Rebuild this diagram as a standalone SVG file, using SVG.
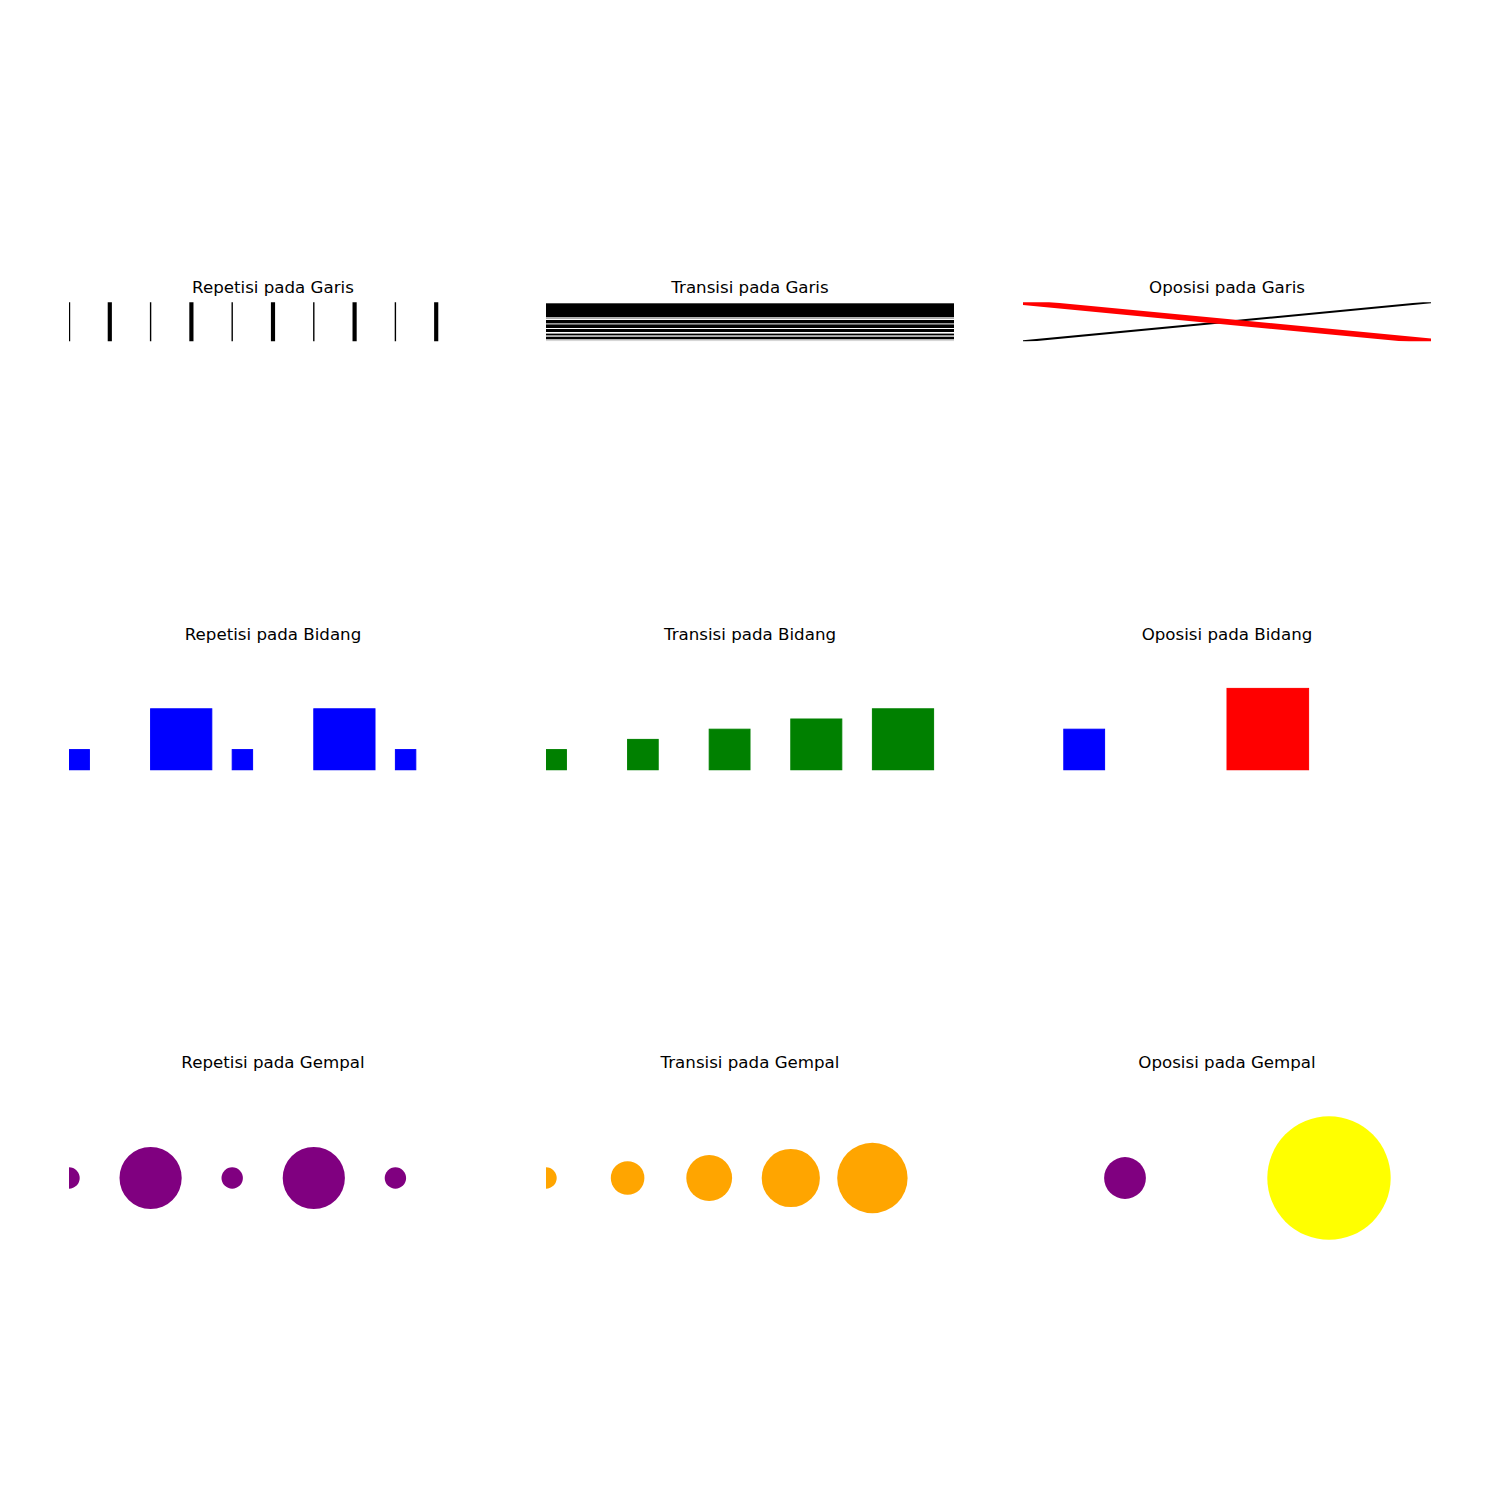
<svg xmlns="http://www.w3.org/2000/svg" width="1500" height="1500" viewBox="0 0 1500 1500">
<style>
.title{font-family:"DejaVu Sans","Liberation Sans",sans-serif;font-size:16.67px;fill:#000;text-anchor:middle}
.tk{stroke:#000;stroke-width:4.17}
.tn{stroke:#000;stroke-width:1.39}
.blue{fill:#0000ff;stroke:#0000ff;stroke-width:1}
.green{fill:#008000;stroke:#008000;stroke-width:1}
.red{fill:#ff0000;stroke:#ff0000;stroke-width:1}
.purple{fill:#800080}
.orange{fill:#ffa500}
.yellow{fill:#ffff00}
</style>
<defs>
<clipPath id="c1a"><rect x="69" y="302.3" width="408" height="39"/></clipPath>
<clipPath id="c1b"><rect x="546" y="302.3" width="408" height="39"/></clipPath>
<clipPath id="c1c"><rect x="1023" y="302.3" width="408" height="39"/></clipPath>
<clipPath id="c2a"><rect x="69" y="640" width="408" height="130.5"/></clipPath>
<clipPath id="c2b"><rect x="546" y="640" width="408" height="130.5"/></clipPath>
<clipPath id="c2c"><rect x="1023" y="640" width="408" height="130.5"/></clipPath>
<clipPath id="c3a"><rect x="69" y="1080" width="408" height="200"/></clipPath>
<clipPath id="c3b"><rect x="546" y="1080" width="408" height="200"/></clipPath>
<clipPath id="c3c"><rect x="1023" y="1080" width="408" height="200"/></clipPath>
</defs>
<rect width="1500" height="1500" fill="#fff"/>

<g id="repetisi-garis">
<text class="title" x="273" y="293">Repetisi pada Garis</text>
<g clip-path="url(#c1a)">
<line class="tn" x1="69.5" y1="302" x2="69.5" y2="342"/>
<line class="tk" x1="109.8" y1="302" x2="109.8" y2="342"/>
<line class="tn" x1="150.6" y1="302" x2="150.6" y2="342"/>
<line class="tk" x1="191.4" y1="302" x2="191.4" y2="342"/>
<line class="tn" x1="232.2" y1="302" x2="232.2" y2="342"/>
<line class="tk" x1="273" y1="302" x2="273" y2="342"/>
<line class="tn" x1="313.8" y1="302" x2="313.8" y2="342"/>
<line class="tk" x1="354.6" y1="302" x2="354.6" y2="342"/>
<line class="tn" x1="395.4" y1="302" x2="395.4" y2="342"/>
<line class="tk" x1="436.2" y1="302" x2="436.2" y2="342"/>
</g>
</g>

<g id="transisi-garis">
<text class="title" x="750" y="293">Transisi pada Garis</text>
<g clip-path="url(#c1b)">
<rect x="546" y="303.3" width="408" height="14" fill="#000"/>
<rect x="546" y="318" width="408" height="0.8" fill="#999"/>
<rect x="546" y="320" width="408" height="3.4" fill="#000"/>
<rect x="546" y="324.4" width="408" height="3.6" fill="#000"/>
<rect x="546" y="329" width="408" height="3" fill="#000"/>
<rect x="546" y="333.6" width="408" height="1.8" fill="#000"/>
<rect x="546" y="336.7" width="408" height="2.6" fill="#000"/>
<rect x="546" y="340.4" width="408" height="0.8" fill="#bbb"/>
</g>
</g>

<g id="oposisi-garis">
<text class="title" x="1227" y="293">Oposisi pada Garis</text>
<g clip-path="url(#c1c)">
<line x1="1023" y1="341.3" x2="1431" y2="302.3" stroke="#000" stroke-width="2.08"/>
<line x1="1023" y1="302.3" x2="1431" y2="341.3" stroke="#ff0000" stroke-width="5.56"/>
</g>
</g>

<g id="repetisi-bidang">
<text class="title" x="273" y="640">Repetisi pada Bidang</text>
<g clip-path="url(#c2a)">
<rect class="blue" x="69" y="749.6" width="20.4" height="20.4"/>
<rect class="blue" x="150.6" y="708.8" width="61.2" height="61.2"/>
<rect class="blue" x="232.2" y="749.6" width="20.4" height="20.4"/>
<rect class="blue" x="313.8" y="708.8" width="61.2" height="61.2"/>
<rect class="blue" x="395.4" y="749.6" width="20.4" height="20.4"/>
</g>
</g>

<g id="transisi-bidang">
<text class="title" x="750" y="640">Transisi pada Bidang</text>
<g clip-path="url(#c2b)">
<rect class="green" x="546" y="749.6" width="20.4" height="20.4"/>
<rect class="green" x="627.6" y="739.4" width="30.6" height="30.6"/>
<rect class="green" x="709.2" y="729.2" width="40.8" height="40.8"/>
<rect class="green" x="790.8" y="719" width="51" height="51"/>
<rect class="green" x="872.4" y="708.8" width="61.2" height="61.2"/>
</g>
</g>

<g id="oposisi-bidang">
<text class="title" x="1227" y="640">Oposisi pada Bidang</text>
<g clip-path="url(#c2c)">
<rect class="blue" x="1063.8" y="729.2" width="40.8" height="40.8"/>
<rect class="red" x="1227" y="688.4" width="81.6" height="81.6"/>
</g>
</g>

<g id="repetisi-gempal">
<text class="title" x="273" y="1067.5">Repetisi pada Gempal</text>
<g clip-path="url(#c3a)">
<circle class="purple" cx="69" cy="1178" r="10.7"/>
<circle class="purple" cx="150.6" cy="1178" r="31.1"/>
<circle class="purple" cx="232.2" cy="1178" r="10.7"/>
<circle class="purple" cx="313.8" cy="1178" r="31.1"/>
<circle class="purple" cx="395.4" cy="1178" r="10.7"/>
</g>
</g>

<g id="transisi-gempal">
<text class="title" x="750" y="1067.5">Transisi pada Gempal</text>
<g clip-path="url(#c3b)">
<circle class="orange" cx="546" cy="1178" r="10.7"/>
<circle class="orange" cx="627.6" cy="1178" r="16.8"/>
<circle class="orange" cx="709.2" cy="1178" r="22.9"/>
<circle class="orange" cx="790.8" cy="1178" r="29.1"/>
<circle class="orange" cx="872.4" cy="1178" r="35.2"/>
</g>
</g>

<g id="oposisi-gempal">
<text class="title" x="1227" y="1067.5">Oposisi pada Gempal</text>
<g clip-path="url(#c3c)">
<circle class="purple" cx="1125" cy="1178" r="20.9"/>
<circle class="yellow" cx="1329" cy="1178" r="61.7"/>
</g>
</g>
</svg>
